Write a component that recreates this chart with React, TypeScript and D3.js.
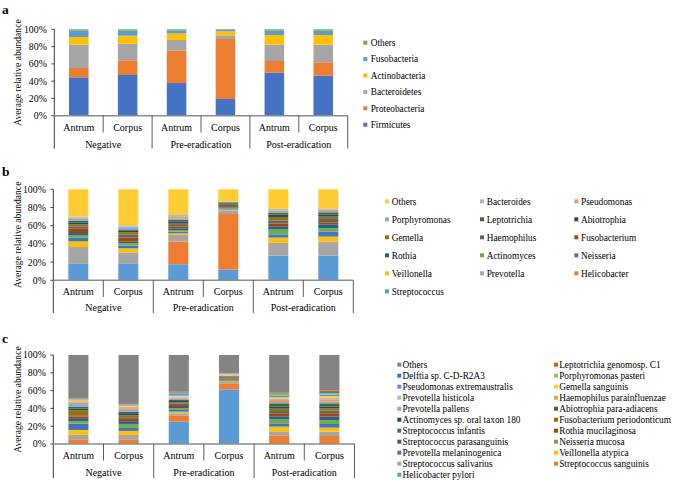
import React from "react";
import * as d3 from "d3";

// ---------- shared categories ----------
const sites = ["Antrum", "Corpus", "Antrum", "Corpus", "Antrum", "Corpus"];
const groups = ["Negative", "Pre-eradication", "Post-eradication"];
const barIds = ["NA", "NC", "PA", "PC", "QA", "QC"];
const yTicks = [0, 0.2, 0.4, 0.6, 0.8, 1.0];

// ---------- panel a: phylum ----------
const phylumNames = ["Firmicutes", "Proteobacteria", "Bacteroidetes", "Actinobacteria", "Fusobacteria", "Others"];
const phylumColors = ["#4472C4", "#ED7D31", "#A5A5A5", "#FFC000", "#5B9BD5", "#70AD47"];
const aFirmicutes = [44.4, 47.1, 37.8, 19.3, 49.8, 46.3];
const aProteobacteria = [10.8, 17.0, 37.4, 69.5, 13.5, 15.5];
const aBacteroidetes = [27.0, 19.2, 12.4, 4.2, 18.9, 20.4];
const aActinobacteria = [8.9, 9.3, 7.7, 4.7, 11.2, 11.2];
const aFusobacteria = [7.3, 5.8, 3.5, 1.5, 5.0, 5.0];
const aOthers = [1.6, 1.6, 1.2, 0.8, 1.6, 1.6];

// ---------- panel b: genus ----------
const genusNames = ["Streptococcus", "Helicobacter", "Prevotella", "Veillonella", "Neisseria", "Actinomyces", "Rothia", "Fusobacterium", "Haemophilus", "Gemella", "Abiotrophia", "Leptotrichia", "Porphyromonas", "Pseudomonas", "Bacteroides", "Others"];
const bStreptococcus = [17.9, 17.9, 17.6, 11.7, 27.1, 27.1];
const bHelicobacter = [0.2, 0.2, 24.9, 61.2, 0.3, 0.3];
const bPrevotella = [18.5, 12.5, 7.3, 4.0, 14.0, 15.1];
const bVeillonella = [6.2, 4.5, 1.8, 0.8, 5.5, 5.5];
const bNeisseria = [4.0, 3.0, 1.9, 0.7, 3.6, 5.5];
const bActinomyces = [2.9, 2.8, 1.8, 0.7, 5.5, 3.6];
const bRothia = [2.2, 1.5, 1.8, 0.8, 3.3, 4.4];
const bFusobacterium = [4.8, 4.5, 1.9, 0.7, 3.0, 2.2];
const bHaemophilus = [2.6, 3.5, 1.8, 2.2, 3.6, 3.7];
const bGemella = [2.2, 2.5, 1.5, 1.4, 3.7, 2.6];
const bAbiotrophia = [1.8, 1.5, 2.2, 0.8, 2.6, 2.5];
const bLeptotrichia = [2.2, 1.5, 2.2, 0.7, 2.2, 2.2];
const bPorphyromonas = [2.6, 2.5, 1.4, 0.4, 1.8, 1.5];
const bPseudomonas = [0.7, 0.5, 2.2, 0.3, 0.7, 1.8];
const bBacteroides = [1.1, 1.5, 2.2, 0.3, 1.5, 1.1];
const bOthers = [30.1, 39.6, 27.5, 13.3, 21.6, 20.9];

// ---------- panel c: species ----------
const speciesNames = ["Helicobacter pylori", "Streptococcus sanguinis", "Streptococcus salivarius", "Veillonella atypica", "Prevotella melaninogenica", "Neisseria mucosa", "Streptococcus parasanguinis", "Rothia mucilaginosa", "Streptococcus infantis", "Fusobacterium periodonticum", "Actinomyces sp. oral taxon 180", "Abiotrophia para-adiacens", "Prevotella pallens", "Haemophilus parainfluenzae", "Prevotella histicola", "Gemella sanguinis", "Pseudomonas extremaustralis", "Porphyromonas pasteri", "Delftia sp. C-D-R2A3", "Leptotrichia genomosp. C1", "Others"];
const cHpylori = [0.1, 0.1, 25.1, 61.4, 0.1, 0.1];
const cSsanguinis = [5.2, 5.2, 6.7, 6.8, 9.6, 8.9];
const cSsalivarius = [5.3, 4.9, 2.7, 1.5, 4.5, 4.9];
const cVatypica = [5.2, 4.5, 1.8, 0.7, 5.3, 4.5];
const cPmelaninogenica = [7.1, 3.4, 1.9, 0.4, 3.7, 4.1];
const cNmucosa = [3.0, 4.5, 1.9, 1.1, 4.5, 4.5];
const cSparasanguinis = [2.3, 3.0, 1.5, 0.4, 3.4, 3.7];
const cRmucilaginosa = [2.6, 2.6, 2.2, 1.1, 3.4, 3.8];
const cSinfantis = [1.5, 1.9, 1.9, 0.7, 2.6, 3.0];
const cFperiodonticum = [5.6, 2.2, 1.1, 0.7, 2.6, 2.6];
const cActinomyces = [1.9, 2.3, 1.5, 0.7, 2.2, 1.8];
const cAbiotrophia = [1.9, 1.8, 1.1, 0.7, 3.8, 3.8];
const cPpallens = [3.3, 1.9, 1.5, 0.4, 1.5, 1.9];
const cHparainfluenzae = [1.9, 1.9, 1.2, 0.4, 2.2, 2.6];
const cPhisticola = [1.1, 1.5, 1.1, 0.7, 1.5, 1.9];
const cGsanguinis = [1.2, 1.5, 1.1, 0.7, 1.5, 1.8];
const cPextremaustralis = [0.7, 0.7, 2.6, 0.4, 1.5, 1.5];
const cPpasteri = [0.8, 0.4, 0.8, 0.3, 2.7, 1.5];
const cDelftia = [0.4, 0.3, 0.7, 0.2, 1.1, 1.5];
const cLeptotrichia = [0.3, 0.4, 0.8, 0.2, 0.7, 1.5];
const cOthers = [48.6, 55.0, 40.8, 20.5, 41.6, 40.1];

const officePalette = ["#5B9BD5", "#ED7D31", "#A5A5A5", "#FFC000", "#4472C4", "#70AD47", "#255E91", "#9E480E", "#636363", "#997300", "#264478", "#43682B", "#7CAFDD", "#F1975A", "#B7B7B7", "#FFCD33", "#698ED0", "#8CC168", "#327DC2", "#D26012", "#848484"];

const FONT = "'Liberation Serif', 'Times New Roman', serif";

type PanelDef = {
  letter: string;
  names: string[];
  colors: string[];
  series: number[][];
  top: number;
  bottom: number;
  left: number;
  right: number;
  letterY: number;
  subLabelY: number;
  groupLabelY: number;
  subSepEnd: number;
  groupSepEnd: number;
  legendCols: number[];
  legendTextDx: number;
  legendY0: number;
  legendDy: number;
};

const panels: PanelDef[] = [
  {
    letter: "a", names: phylumNames, colors: phylumColors,
    series: [aFirmicutes, aProteobacteria, aBacteroidetes, aActinobacteria, aFusobacteria, aOthers],
    top: 29.3, bottom: 115.7, left: 54.3, right: 347.7, letterY: 13.5,
    subLabelY: 130.8, groupLabelY: 147.6, subSepEnd: 132.5, groupSepEnd: 148.5,
    legendCols: [363.3], legendTextDx: 7.4, legendY0: 42.7, legendDy: 16.4,
  },
  {
    letter: "b", names: genusNames, colors: officePalette.slice(0, 16),
    series: [bStreptococcus, bHelicobacter, bPrevotella, bVeillonella, bNeisseria, bActinomyces, bRothia, bFusobacterium, bHaemophilus, bGemella, bAbiotrophia, bLeptotrichia, bPorphyromonas, bPseudomonas, bBacteroides, bOthers],
    top: 189.3, bottom: 280.3, left: 53.3, right: 353.3, letterY: 176,
    subLabelY: 295, groupLabelY: 311, subSepEnd: 297, groupSepEnd: 313,
    legendCols: [385, 480, 574.3], legendTextDx: 6.7, legendY0: 201.3, legendDy: 18,
  },
  {
    letter: "c", names: speciesNames, colors: officePalette,
    series: [cHpylori, cSsanguinis, cSsalivarius, cVatypica, cPmelaninogenica, cNmucosa, cSparasanguinis, cRmucilaginosa, cSinfantis, cFperiodonticum, cActinomyces, cAbiotrophia, cPpallens, cHparainfluenzae, cPhisticola, cGsanguinis, cPextremaustralis, cPpasteri, cDelftia, cLeptotrichia, cOthers],
    top: 355, bottom: 444, left: 53.3, right: 354.5, letterY: 343.3,
    subLabelY: 458.8, groupLabelY: 475.8, subSepEnd: 460.5, groupSepEnd: 478,
    legendCols: [397.3, 554], legendTextDx: 5.2, legendY0: 364.7, legendDy: 11,
  },
];

const pct = d3.format(".0%");

function Panel({ p }: { p: PanelDef }) {
  const x = d3.scaleBand<string>().domain(barIds).range([p.left, p.right]).paddingInner(0.6).paddingOuter(0.3);
  const y = d3.scaleLinear().domain([0, 100]).range([p.bottom, p.top]);
  const yPct = d3.scaleLinear().domain([0, 1]).range([p.bottom, p.top]);
  const rows = barIds.map((id, i) => {
    const r: Record<string, any> = { id };
    p.names.forEach((n, k) => (r[n] = p.series[k][i]));
    return r;
  });
  const stacked = d3.stack<Record<string, any>>().keys(p.names)(rows);
  const step = x.step();
  const legendOrder = p.names.map((n, k) => ({ n, c: p.colors[k] })).reverse();
  const nCols = p.legendCols.length;
  const midY = (p.top + p.bottom) / 2;
  return (
    <g>
      <text x={2} y={p.letterY} fontFamily={FONT} fontWeight="bold" fontSize={13.5}>{p.letter}</text>
      <text transform={`translate(17,${midY}) rotate(-90)`} textAnchor="middle" dominantBaseline="central" fontFamily={FONT} fontSize={9.6}>Average relative abundance</text>
      {yTicks.map((t) => (
        <g key={t}>
          <line x1={p.left - 3} x2={p.left} y1={yPct(t)} y2={yPct(t)} stroke="#222" strokeWidth={0.8} />
          <text x={p.left - 7.5} y={yPct(t)} dy="0.35em" textAnchor="end" fontFamily={FONT} fontSize={9.8}>{pct(t)}</text>
        </g>
      ))}
      {stacked.map((s, k) => (
        <g key={p.names[k]} fill={p.colors[k]}>
          {s.map((d, i) => (
            <rect key={barIds[i]} x={x(barIds[i])} width={x.bandwidth()} y={y(d[1])} height={Math.max(0, y(d[0]) - y(d[1]))} />
          ))}
        </g>
      ))}
      <line x1={p.left} x2={p.left} y1={p.top} y2={p.groupSepEnd} stroke="#222" strokeWidth={0.9} />
      <line x1={p.left} x2={p.right} y1={p.bottom} y2={p.bottom} stroke="#8c8c8c" strokeWidth={1.4} />
      {[1, 3, 5].map((k) => (
        <line key={"s" + k} x1={p.left + k * step} x2={p.left + k * step} y1={p.bottom} y2={p.subSepEnd} stroke="#333" strokeWidth={0.8} />
      ))}
      {[2, 4, 6].map((k) => (
        <line key={"g" + k} x1={p.left + k * step} x2={p.left + k * step} y1={p.bottom} y2={p.groupSepEnd} stroke="#333" strokeWidth={0.8} />
      ))}
      {barIds.map((id, i) => (
        <text key={id} x={x(id)! + x.bandwidth() / 2} y={p.subLabelY} textAnchor="middle" fontFamily={FONT} fontSize={10}>{sites[i]}</text>
      ))}
      {groups.map((g, j) => (
        <text key={g} x={p.left + (2 * j + 1) * step} y={p.groupLabelY} textAnchor="middle" fontFamily={FONT} fontSize={10}>{g}</text>
      ))}
      {legendOrder.map((it, i) => {
        const col = i % nCols;
        const row = Math.floor(i / nCols);
        const lx = p.legendCols[col];
        const ly = p.legendY0 + row * p.legendDy;
        return (
          <g key={it.n}>
            <rect x={lx} y={ly - 2} width={4} height={4} fill={it.c} />
            <text x={lx + p.legendTextDx} y={ly} dy="0.35em" fontFamily={FONT} fontSize={9.3}>{it.n}</text>
          </g>
        );
      })}
    </g>
  );
}

export default function App() {
  return (
    <svg width={673} height={480} viewBox="0 0 673 480" style={{ position: "absolute", left: 0, top: 0, background: "#fff" }}>
      <rect width={673} height={480} fill="#fff" />
      {panels.map((p) => (
        <Panel key={p.letter} p={p} />
      ))}
    </svg>
  );
}
